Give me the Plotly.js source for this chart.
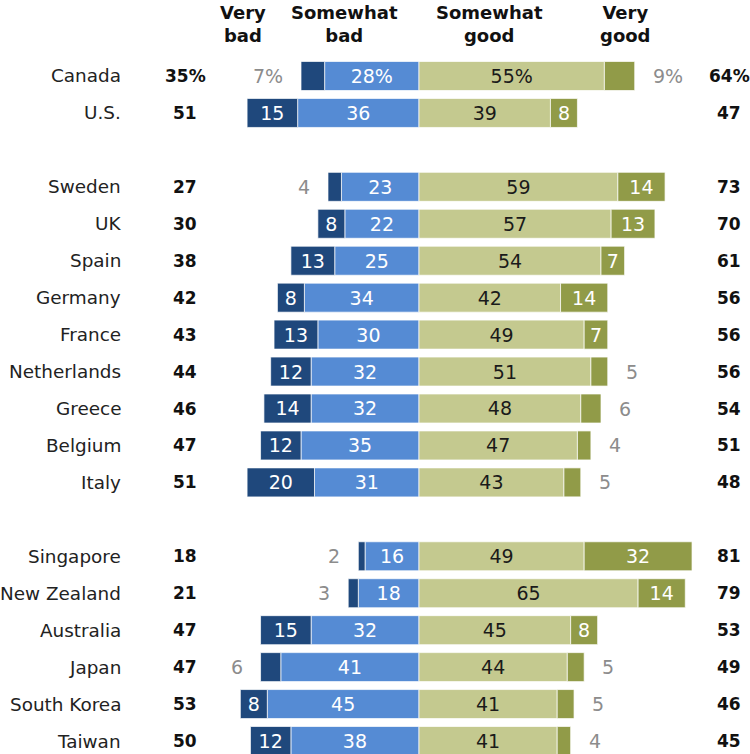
<!DOCTYPE html>
<html>
<head>
<meta charset="utf-8">
<script src="https://cdn.plot.ly/plotly-3.0.1.min.js"></script>
<style>html,body{margin:0;padding:0;background:#fff;}#chart{width:750px;height:754px;}</style>
</head>
<body>
<div id="chart"></div>
<script>
const countries = ["Canada","U.S.","Sweden","UK","Spain","Germany","France","Netherlands","Greece","Belgium","Italy","Singapore","New Zealand","Australia","Japan","South Korea","Taiwan"];
const veryBad      = [7,15,4,8,13,8,13,12,14,12,20,2,3,15,6,8,12];
const somewhatBad  = [28,36,23,22,25,34,30,32,32,35,31,16,18,32,41,45,38];
const somewhatGood = [55,39,59,57,54,42,49,51,48,47,43,49,65,45,44,41,41];
const veryGood     = [9,8,14,13,7,14,7,5,6,4,5,32,14,8,5,5,4];
const totalBad     = [35,51,27,30,38,42,43,44,46,47,51,18,21,47,47,53,50];
const totalGood    = [64,47,73,70,61,56,56,56,54,51,48,81,79,53,49,46,45];
const headers = ["Very<br>bad","Somewhat<br>bad","Somewhat<br>good","Very<br>good"];

const categoryOrder = ["Canada","U.S.","gap1","Sweden","UK","Spain","Germany","France","Netherlands","Greece","Belgium","Italy","gap2","Singapore","New Zealand","Australia","Japan","South Korea","Taiwan"];

const FONT = "DejaVu Sans";
const C_VB = "#1f487c", C_SB = "#558bd4", C_SG = "#c4c98f", C_VG = "#919b48";
const GRAY = "#8c8c8c";

function fmt(v, i) { return v + (i === 0 ? "%" : ""); }
function isOutside(v, i) { return v < (i === 0 ? 10 : 7); }

function barTrace(vals, sign, color, txtColor, checkOutside) {
  return {
    type: "bar", orientation: "h",
    y: countries,
    x: vals.map(v => sign * v),
    text: vals.map((v, i) => (checkOutside && isOutside(v, i)) ? "" : fmt(v, i)),
    textposition: "inside", insidetextanchor: "middle", textangle: 0,
    constraintext: "none",
    textfont: {family: FONT, size: 19, color: txtColor},
    marker: {color: color, line: {color: "rgba(255,255,255,0.7)", width: 1}},
    hoverinfo: "skip", showlegend: false, cliponaxis: false
  };
}

const data = [
  barTrace(somewhatBad, -1, C_SB, "#ffffff", false),
  barTrace(veryBad, -1, C_VB, "#ffffff", true),
  barTrace(somewhatGood, 1, C_SG, "#1a1a1a", false),
  barTrace(veryGood, 1, C_VG, "#ffffff", true)
];

const ann = [];
countries.forEach((c, i) => {
  ann.push({xref: "paper", yref: "y", x: 123/750, y: c, xanchor: "right", yanchor: "middle",
    text: c, showarrow: false, font: {family: FONT, size: 18.4, color: "#222"}});
  ann.push({xref: "paper", yref: "y", x: 185/750, y: c, xanchor: "center", yanchor: "middle",
    text: "<b>" + fmt(totalBad[i], i) + "</b>", showarrow: false, font: {family: FONT, size: 17, color: "#111"}});
  ann.push({xref: "paper", yref: "y", x: 729/750, y: c, xanchor: "center", yanchor: "middle",
    text: "<b>" + fmt(totalGood[i], i) + "</b>", showarrow: false, font: {family: FONT, size: 17, color: "#111"}});
  if (isOutside(veryBad[i], i)) {
    ann.push({xref: "x", yref: "y", x: -(veryBad[i] + somewhatBad[i]), y: c, xanchor: "right", yanchor: "middle",
      xshift: -16, text: fmt(veryBad[i], i), showarrow: false, font: {family: FONT, size: 19, color: GRAY}});
  }
  if (isOutside(veryGood[i], i)) {
    ann.push({xref: "x", yref: "y", x: somewhatGood[i] + veryGood[i], y: c, xanchor: "left", yanchor: "middle",
      xshift: 16, text: fmt(veryGood[i], i), showarrow: false, font: {family: FONT, size: 19, color: GRAY}});
  }
});
const headerX = [243, 344, 489, 625];
headers.forEach((h, k) => {
  ann.push({xref: "paper", yref: "paper", x: headerX[k]/750, y: 1.0, xanchor: "center", yanchor: "top",
    text: "<b>" + h + "</b>", showarrow: false, font: {family: FONT, size: 18, color: "#111"}});
});

const layout = {
  width: 750, height: 754,
  margin: {l: 0, r: 0, t: 0, b: 0, pad: 0},
  paper_bgcolor: "#fff", plot_bgcolor: "#fff",
  barmode: "relative", bargap: 0.215,
  xaxis: {range: [-124.3, 98.2], visible: false, fixedrange: true, zeroline: false, showgrid: false},
  yaxis: {type: "category", categoryorder: "array", categoryarray: categoryOrder,
    range: [18.352, -2.057], visible: false, showgrid: false, zeroline: false, fixedrange: true},
  annotations: ann,
  showlegend: false
};

Plotly.newPlot("chart", data, layout, {displayModeBar: false, staticPlot: true});
</script>
</body>
</html>
